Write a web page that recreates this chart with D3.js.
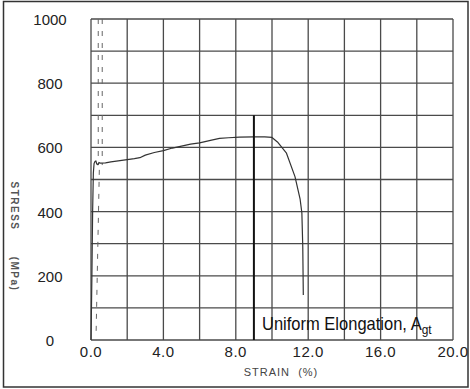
<!DOCTYPE html>
<html>
<head>
<meta charset="utf-8">
<script src="https://cdn.jsdelivr.net/npm/d3@7"></script>
<style>
  body { margin: 0; background: #fff; }
  svg text { font-family: "Liberation Sans", Arial, sans-serif; }
</style>
</head>
<body>
<div id="chart"></div>
<script>
// tick values
var xTicks = [0, 4, 8, 12, 16, 20];
var yTicks = [0, 200, 400, 600, 800, 1000];

// measured curve (strain %, stress MPa)
var strain = [0, 0.05, 0.09, 0.13, 0.17, 0.22, 0.27, 0.32, 0.38, 0.44, 0.5, 0.8, 1.1, 1.5, 2.0, 2.4, 2.7, 3.0, 3.5, 4.0, 4.5, 5.0, 5.5, 6.0, 6.6, 7.1, 7.6, 8.2, 9.0, 9.6, 10.0, 10.3, 10.8, 11.27, 11.55, 11.65, 11.7, 11.73];
var stress = [0, 200, 400, 520, 550, 556, 558, 548, 546, 553, 551, 552, 555, 558, 562, 565, 568, 576, 584, 590, 598, 604, 610, 614, 622, 628, 630, 632, 633, 633, 631, 617, 582, 509, 440, 396, 290, 140];

// dashed extensometer traces
var dashUpper = [0.40, 0.62];
var dashUpperStress = [1000, 545];
var dashLowerStrain = [0.46, 0.28];
var dashLowerStress = [530, 15];

// uniform elongation marker
var agtStrain = 9.0;
var agtStress = 700;

var W = 470, H = 389;
var svg = d3.select("#chart").append("svg")
    .attr("width", W).attr("height", H);

// outer frame
svg.append("rect")
    .attr("x", 3.5).attr("y", 1.5)
    .attr("width", 464.5).attr("height", 385.5)
    .attr("fill", "none").attr("stroke", "#333").attr("stroke-width", 1.5);

var x = d3.scaleLinear().domain([0, 20]).range([91, 453]);
var y = d3.scaleLinear().domain([0, 1000]).range([340, 19]);

// grid
var g = svg.append("g");
g.selectAll(".vg").data(d3.range(0, 21, 2)).enter().append("line")
    .attr("x1", d => x(d)).attr("x2", d => x(d))
    .attr("y1", y(0)).attr("y2", y(1000))
    .attr("stroke", "#4a4a4a").attr("stroke-width", 1.3);
g.selectAll(".hg").data(d3.range(0, 1001, 100)).enter().append("line")
    .attr("x1", x(0)).attr("x2", x(20))
    .attr("y1", d => y(d)).attr("y2", d => y(d))
    .attr("stroke", "#4a4a4a").attr("stroke-width", 1.3);

// tick labels
svg.selectAll(".yt").data(yTicks).enter().append("text")
    .attr("x", 50).attr("y", d => y(d) + 6)
    .attr("text-anchor", "middle")
    .attr("font-size", 15).attr("fill", "#222")
    .text(d => d);
svg.selectAll(".xt").data(xTicks).enter().append("text")
    .attr("x", d => x(d)).attr("y", 357)
    .attr("text-anchor", "middle")
    .attr("font-size", 15).attr("fill", "#222")
    .attr("letter-spacing", 0.5)
    .text(d => d.toFixed(1));

// axis titles
svg.append("text")
    .attr("x", 281).attr("y", 376)
    .attr("text-anchor", "middle")
    .attr("font-size", 11).attr("fill", "#444")
    .attr("letter-spacing", 1)
    .attr("xml:space", "preserve")
    .text("STRAIN  (%)");
svg.append("text")
    .attr("transform", "translate(11,206) rotate(90)")
    .attr("text-anchor", "middle")
    .attr("font-size", 10).attr("font-weight", "bold").attr("fill", "#555")
    .attr("letter-spacing", 1.5)
    .text("STRESS");
svg.append("text")
    .attr("transform", "translate(11,274) rotate(90)")
    .attr("text-anchor", "middle")
    .attr("font-size", 10).attr("font-weight", "bold").attr("fill", "#555")
    .attr("letter-spacing", 1.5)
    .text("(MPa)");

// dashed traces
var dashLine = d3.line().x(d => x(d[0])).y(d => y(d[1]));
dashUpper.forEach(function(s) {
  svg.append("path")
      .attr("d", dashLine([[s, dashUpperStress[0]], [s, dashUpperStress[1]]]))
      .attr("stroke", "#666").attr("stroke-width", 1)
      .attr("stroke-dasharray", "5,7").attr("fill", "none");
});
svg.append("path")
    .attr("d", dashLine(d3.zip(dashLowerStrain, dashLowerStress)))
    .attr("stroke", "#666").attr("stroke-width", 1)
    .attr("stroke-dasharray", "5,7").attr("fill", "none");

// stress-strain curve
svg.append("path")
    .attr("d", dashLine(d3.zip(strain, stress)))
    .attr("fill", "none").attr("stroke", "#333").attr("stroke-width", 1.2)
    .attr("stroke-linejoin", "round");

// Agt marker
svg.append("line")
    .attr("x1", x(agtStrain)).attr("x2", x(agtStrain))
    .attr("y1", y(0)).attr("y2", y(agtStress))
    .attr("stroke", "#111").attr("stroke-width", 2);

// annotation
var ann = svg.append("text")
    .attr("x", 0).attr("y", 0)
    .attr("font-size", 18).attr("fill", "#111");
ann.append("tspan").text("Uniform Elongation, A");
ann.append("tspan").attr("font-size", 13).attr("dy", 4).text("gt");
var bw = ann.node().getBBox().width;
var sx = (432 - 262) / bw;
ann.attr("transform", "translate(262,330) scale(" + sx + ",1)");
</script>
</body>
</html>
